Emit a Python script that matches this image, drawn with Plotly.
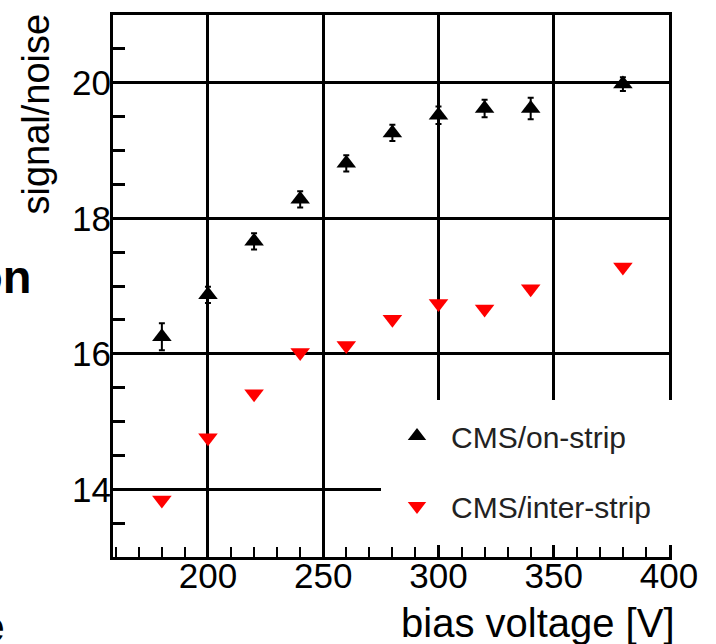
import plotly.graph_objects as go

# ---- data ----
bias_voltage = [180, 200, 220, 240, 260, 280, 300, 320, 340, 380]
sn_on_strip = [16.25, 16.87, 17.66, 18.28, 18.81, 19.26, 19.52, 19.62, 19.62, 19.98]
sn_on_strip_err = [0.20, 0.12, 0.12, 0.12, 0.12, 0.12, 0.13, 0.13, 0.16, 0.10]
sn_inter_strip = [13.84, 14.76, 15.41, 16.02, 16.12, 16.51, 16.74, 16.66, 16.96, 17.28]
sn_inter_strip_err = [0.06, 0.05, 0.05, 0.05, 0.05, 0.05, 0.05, 0.05, 0.05, 0.05]

x_ticks = [200, 250, 300, 350, 400]
y_ticks = [14, 16, 18, 20]

FONT = "Liberation Sans, Arial, Helvetica, sans-serif"
W, H = 716, 644
ML, MR, MT, MB = 113, 47, 15, 87
PW, PH = W - ML - MR, H - MT - MB


def px(xp):
    return (xp - ML) / PW


def py(yp):
    return (H - MB - yp) / PH


fig = go.Figure()
fig.add_trace(go.Scatter(
    x=bias_voltage, y=sn_on_strip, mode="markers", name="CMS/on-strip",
    legendgroup="a",
    marker=dict(symbol="triangle-up", size=17, color="black"),
    error_y=dict(type="data", array=sn_on_strip_err, color="black", thickness=2, width=3),
))
fig.add_trace(go.Scatter(
    x=bias_voltage, y=sn_inter_strip, mode="markers", name="CMS/inter-strip",
    legendgroup="b",
    marker=dict(symbol="triangle-down", size=17, color="#ff0000"),
    error_y=dict(type="data", array=sn_inter_strip_err, color="#7a0000", thickness=2, width=0),
))

axis_common = dict(
    showline=True, linewidth=3, linecolor="black", mirror=True,
    showgrid=True, gridcolor="black", gridwidth=3, zeroline=False,
    ticks="inside", tickwidth=3, tickcolor="black",
    tickfont=dict(family=FONT, size=35, color="black"),
)

fig.update_layout(
    width=W, height=H,
    margin=dict(l=ML, r=MR, t=MT, b=MB),
    paper_bgcolor="white", plot_bgcolor="white",
    font=dict(family=FONT, color="black"),
    xaxis=dict(range=[158.8, 400], tickvals=x_ticks, ticklen=13, ticklabelstandoff=-14,
               minor=dict(dtick=10, tick0=0, ticks="inside", ticklen=10, tickwidth=2,
                          tickcolor="black", showgrid=False),
               **axis_common),
    yaxis=dict(range=[13, 21], tickvals=y_ticks, ticklen=12, ticklabelstandoff=-8,
               minor=dict(dtick=0.5, tick0=0, ticks="inside", ticklen=12, tickwidth=3,
                          tickcolor="black", showgrid=False),
               **axis_common),
    showlegend=True,
    legend=dict(x=px(383), xanchor="left", y=py(410), yanchor="top",
                bgcolor="rgba(0,0,0,0)", borderwidth=0,
                font=dict(family=FONT, size=30, color="#222"),
                traceorder="grouped", tracegroupgap=28, itemwidth=58),
    shapes=[dict(type="rect", xref="paper", yref="paper",
                 x0=px(381), x1=1.2, y0=py(545), y1=py(400),
                 fillcolor="white", line=dict(width=0), layer="above")],
    annotations=[
        dict(text="bias voltage [V]", xref="paper", yref="paper",
             x=px(677), y=py(599), xanchor="right", yanchor="top",
             showarrow=False, font=dict(family=FONT, size=40, color="black")),
        dict(text="signal/noise", xref="paper", yref="paper",
             x=px(36), y=py(12), xanchor="center", yanchor="top", textangle=-90,
             showarrow=False, font=dict(family=FONT, size=38, color="black")),
        dict(text="<b>on</b>", xref="paper", yref="paper",
             x=px(33), y=py(276), xanchor="right", yanchor="middle",
             showarrow=False, font=dict(family=FONT, size=47, color="black")),
        dict(text="<b>e</b>", xref="paper", yref="paper",
             x=px(6), y=py(626), xanchor="right", yanchor="middle",
             showarrow=False, font=dict(family=FONT, size=44, color="black")),
    ],
)

fig.write_html("out.html")
